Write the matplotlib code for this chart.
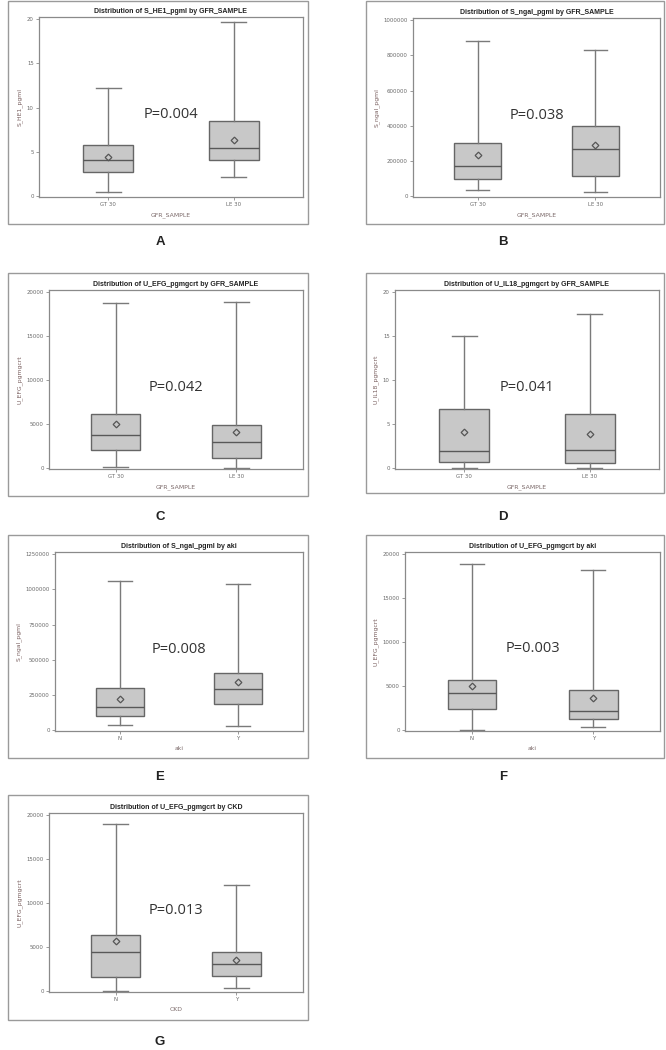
import matplotlib
matplotlib.use("Agg")
import matplotlib.pyplot as plt
from matplotlib.patches import Rectangle

# ---------------- data ----------------
titles = [
    "Distribution of S_HE1_pgml by GFR_SAMPLE",
    "Distribution of S_ngal_pgml by GFR_SAMPLE",
    "Distribution of U_EFG_pgmgcrt by GFR_SAMPLE",
    "Distribution of U_IL18_pgmgcrt by GFR_SAMPLE",
    "Distribution of S_ngal_pgml by aki",
    "Distribution of U_EFG_pgmgcrt by aki",
    "Distribution of U_EFG_pgmgcrt by CKD",
]
ylabels = ["S_HE1_pgml", "S_ngal_pgml", "U_EFG_pgmgcrt", "U_IL18_pgmgcrt",
           "S_ngal_pgml", "U_EFG_pgmgcrt", "U_EFG_pgmgcrt"]
xlabels = ["GFR_SAMPLE", "GFR_SAMPLE", "GFR_SAMPLE", "GFR_SAMPLE", "aki", "aki", "CKD"]
categories = [["GT 30", "LE 30"], ["GT 30", "LE 30"], ["GT 30", "LE 30"],
              ["GT 30", "LE 30"], ["N", "Y"], ["N", "Y"], ["N", "Y"]]
panel_letters = ["A", "B", "C", "D", "E", "F", "G"]
pvalues = ["P=0.004", "P=0.038", "P=0.042", "P=0.041", "P=0.008", "P=0.003", "P=0.013"]

yticks = [
    [0, 5, 10, 15, 20],
    [0, 200000, 400000, 600000, 800000, 1000000],
    [0, 5000, 10000, 15000, 20000],
    [0, 5, 10, 15, 20],
    [0, 250000, 500000, 750000, 1000000, 1250000],
    [0, 5000, 10000, 15000, 20000],
    [0, 5000, 10000, 15000, 20000],
]

# per panel: [group1, group2]
whis_low = [[0.42, 2.15], [32000, 26000], [80, 0], [0.0, 0.0],
            [37700, 25900], [0, 300], [0, 300]]
q1 = [[2.76, 4.05], [94500, 113000], [2110, 1170], [0.72, 0.57],
      [98900, 183600], [2380, 1280], [1660, 1770]]
median = [[4.05, 5.41], [172000, 268000], [3770, 2940], [1.92, 2.04],
          [162400, 294000], [4190, 2190], [4450, 3060]]
mean = [[4.39, 6.35], [231000, 293000], [5020, 4150], [4.15, 3.89],
        [223600, 339000], [5060, 3700], [5660, 3510]]
q3 = [[5.82, 8.54], [302000, 401000], [6110, 4940], [6.75, 6.15],
      [296600, 407000], [5700, 4570], [6380, 4490]]
whis_high = [[12.17, 19.62], [883000, 832000], [18790, 18900], [15.02, 17.55],
             [1059000, 1036000], [18900, 18230], [18940, 12110]]
pvalue_y = [9.2, 460000, 9200, 9.2, 570000, 9300, 9200]

# ---------------- layout (pixels, top-left origin) ----------------
W, H = 666, 1050
outer = [(8, 1, 308, 224), (366, 1, 664, 224), (8, 273, 308, 496), (366, 273, 664, 493),
         (8, 535, 308, 758), (366, 535, 664, 758), (8, 795, 308, 1020)]
inner = [(39, 17, 303, 197), (413, 18, 660, 197), (49, 290, 303, 469), (395, 290, 659, 469),
         (55, 552, 303, 731), (405, 552, 660, 731), (49, 813, 303, 992)]
letter_pos = [(160, 242), (503, 242), (160, 517), (503, 517), (160, 777), (503, 777), (160, 1042)]

fig = plt.figure(figsize=(W / 100, H / 100), dpi=100)
fig.patch.set_facecolor("white")

def fx(x):
    return x / W

def fy(y):
    return 1 - y / H

axis_gray = "#8a8a8a"
text_gray = "#6a6a6a"

for i in range(7):
    # outer graph border
    x0, y0, x1, y1 = outer[i]
    fig.patches.append(Rectangle((fx(x0), fy(y1)), fx(x1) - fx(x0), fy(y0) - fy(y1),
                                 transform=fig.transFigure, fill=False,
                                 edgecolor="#9a9a9a", linewidth=1.0))
    ix0, iy0, ix1, iy1 = inner[i]
    ax = fig.add_axes([fx(ix0), fy(iy1), fx(ix1) - fx(ix0), fy(iy0) - fy(iy1)])

    stats = []
    for g in range(2):
        stats.append(dict(label=categories[i][g], med=median[i][g], q1=q1[i][g],
                          q3=q3[i][g], whislo=whis_low[i][g], whishi=whis_high[i][g],
                          mean=mean[i][g], fliers=[]))
    ax.bxp(stats, positions=[0, 1], widths=0.4, showmeans=True, patch_artist=True,
           boxprops=dict(facecolor="#c8c8c8", edgecolor="#666666", linewidth=1.0),
           medianprops=dict(color="#585858", linewidth=1.0),
           whiskerprops=dict(color="#7a7a7a", linewidth=1.0),
           capprops=dict(color="#7a7a7a", linewidth=1.0),
           meanprops=dict(marker="D", markersize=3.4, markerfacecolor="none",
                          markeredgecolor="#555555", markeredgewidth=0.9))

    ymax = yticks[i][-1]
    ax.set_ylim(-0.005 * ymax, 1.012 * ymax)
    ax.set_xlim(-0.55, 1.55)
    ax.set_yticks(yticks[i])
    ax.set_yticklabels([str(v) for v in yticks[i]])
    ax.set_xticks([0, 1])
    ax.set_xticklabels(categories[i])

    for sp in ax.spines.values():
        sp.set_color(axis_gray)
        sp.set_linewidth(0.9)
    ax.tick_params(axis="both", colors=axis_gray, labelcolor=text_gray,
                   labelsize=3.9, length=2, width=0.6, pad=1.8)

    ax.set_ylabel(ylabels[i], fontsize=4.4, color="#7a6060", labelpad=3)
    ax.set_xlabel(xlabels[i], fontsize=4.4, color="#7a6868", labelpad=3.5)
    ax.set_title(titles[i], fontsize=5.0, fontweight="bold", color="#222222",
                 pad=3, family="Liberation Sans")

    ax.text(0.5, pvalue_y[i], pvalues[i], fontsize=10.5, color="#333333",
            ha="center", va="center", family="Open Sans")

    lx, ly = letter_pos[i]
    fig.text(fx(lx), fy(ly), panel_letters[i], fontsize=9.5, fontweight="bold",
             color="#222222", ha="center", va="center", family="Liberation Sans")

fig.savefig("out.png", dpi=100, facecolor="white")
